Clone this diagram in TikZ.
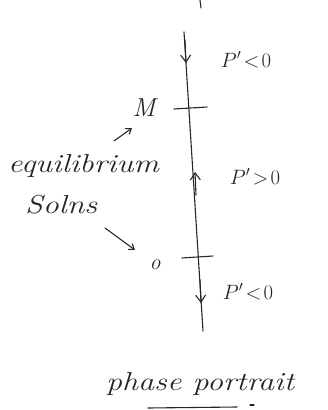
\documentclass[tikz,border=0pt]{standalone}
\usetikzlibrary{arrows.meta}
\begin{document}
\begin{tikzpicture}[x=1pt,y=-1pt,
  ink/.style={line width=1.1pt,line cap=round,black!85},
  lbl/.style={font=\fontsize{22}{24}\selectfont\itshape,inner sep=0pt,black!85},
  word/.style={font=\fontsize{26}{28}\selectfont\itshape,inner sep=0pt,black!85,xscale=1.23},
  arr/.style={ink,-{Straight Barb[length=7pt,width=10pt]}}]
\useasboundingbox (0,0) rectangle (327,410);
% axis
\coordinate (top) at (184,32);
\coordinate (bot) at (203,331);
\draw[ink] (top) -- (bot);
\draw[ink] (200,0) -- (201,8);
% ticks
\draw[ink] (174,109) -- (207,107);
\draw[ink] (182,258) -- (213,256);
% direction arrows
\coordinate (a1s) at (185,40);
\coordinate (a1e) at (186,63);
\draw[arr] (a1s) -- (a1e);
\coordinate (a2s) at (196,195);
\coordinate (a2e) at (195,172);
\draw[arr] (a2s) -- (a2e);
\coordinate (a3s) at (200,280);
\coordinate (a3e) at (201,303);
\draw[arr] (a3s) -- (a3e);
% labels
\node[lbl] (p1) at (246,60) {$P'\!<\!0$};
\node[lbl] (p2) at (255,177) {$P'\!>\!0$};
\node[lbl] (p3) at (248,292) {$P'\!<\!0$};
\node[lbl,font=\fontsize{26}{28}\selectfont\itshape] (M) at (144,108) {M};
\node[lbl] (O) at (155,265) {o};
\node[word,anchor=west] (eq) at (8,166) {equilibrium};
\node[word,anchor=west] (so) at (25,205) {Solns};
\draw[ink,-{Straight Barb[length=5pt,width=7pt]}] (114,141) -- (132,128);
\draw[ink,-{Straight Barb[length=5pt,width=7pt]}] (105,228) -- (135,250);
\node[word,anchor=west] (pp) at (106,384) {phase portrait};
\draw[ink] (148,408) -- (237,407);
\draw[ink] (250,405) -- (254,405);
\end{tikzpicture}
\end{document}
